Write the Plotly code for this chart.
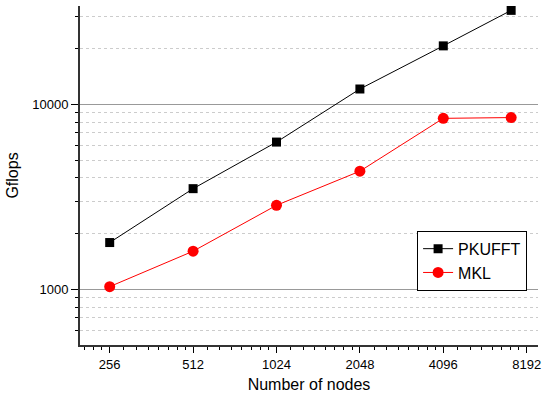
import numpy as np
import plotly.graph_objects as go

nodes = [256, 512, 1024, 2048, 4096, 7200]
pkufft = [1790, 3500, 6250, 12100, 20700, 32200]
mkl = [1034, 1607, 2845, 4350, 8400, 8480]
x_ticks = [256, 512, 1024, 2048, 4096, 8192]
x_tick_labels = ["256", "512", "1024", "2048", "4096", "8192"]
y_ticks = [1000, 10000]
y_tick_labels = ["1000", "10000"]

# minor ticks
x_minor = []
for lo in [128, 256, 512, 1024, 2048, 4096, 8192]:
    step = lo // 8
    x_minor += [lo + k * step for k in range(1, 8)]
x_minor = [v for v in x_minor if 200 <= v <= 9000 and v not in x_ticks]
y_minor = [600, 700, 800, 900] + [k * 1000 for k in range(2, 10)] + [20000, 30000]

font = "Liberation Sans, Arial, sans-serif"

fig = go.Figure()
fig.add_trace(go.Scatter(x=nodes, y=pkufft, name="PKUFFT", mode="lines+markers",
                         line=dict(color="black", width=1),
                         marker=dict(symbol="square", size=9, color="black")))
fig.add_trace(go.Scatter(x=nodes, y=mkl, name="MKL", mode="lines+markers",
                         line=dict(color="#ff0000", width=1),
                         marker=dict(symbol="circle", size=11, color="#ff0000")))

fig.update_layout(
    width=542, height=397,
    margin=dict(l=80, r=4, t=6, b=52, autoexpand=False),
    paper_bgcolor="white", plot_bgcolor="white",
    font=dict(family=font, size=13, color="black"),
    showlegend=True,
    legend=dict(x=0.736, y=0.337, xanchor="left", yanchor="top",
                bordercolor="black", borderwidth=1, bgcolor="white",
                font=dict(size=16, family=font), tracegroupgap=0,
                itemwidth=30),
    xaxis=dict(type="log", range=[np.log10(200), np.log10(9000)],
               automargin=False,
               tickmode="array", tickvals=x_ticks, ticktext=x_tick_labels,
               ticks="outside", ticklen=6, tickwidth=1, tickcolor="black",
               showgrid=False, zeroline=False,
               showline=True, linecolor="#333333", linewidth=2,
               tickfont=dict(size=13),
               title=dict(text="Number of nodes", font=dict(size=16), standoff=8),
               minor=dict(tickmode="array", tickvals=x_minor, ticks="outside",
                          ticklen=3, tickwidth=1, tickcolor="black", showgrid=False)),
    yaxis=dict(type="log", range=[np.log10(500), np.log10(34000)],
               automargin=False,
               tickmode="array", tickvals=y_ticks, ticktext=y_tick_labels,
               ticks="outside", ticklen=7, tickwidth=1, tickcolor="black",
               showgrid=True, gridcolor="#999999", gridwidth=1,
               zeroline=False,
               showline=True, linecolor="#333333", linewidth=2,
               tickfont=dict(size=13),
               title=dict(text="Gflops", font=dict(size=16), standoff=10),
               minor=dict(tickmode="array", tickvals=y_minor, ticks="outside",
                          ticklen=3, tickwidth=1, tickcolor="black",
                          showgrid=True, gridcolor="#cccccc", griddash="dot",
                          gridwidth=1)),
)

fig.write_html("out.html", config={"displayModeBar": False},
               post_script="document.body.style.margin='0';document.body.style.padding='0';")
